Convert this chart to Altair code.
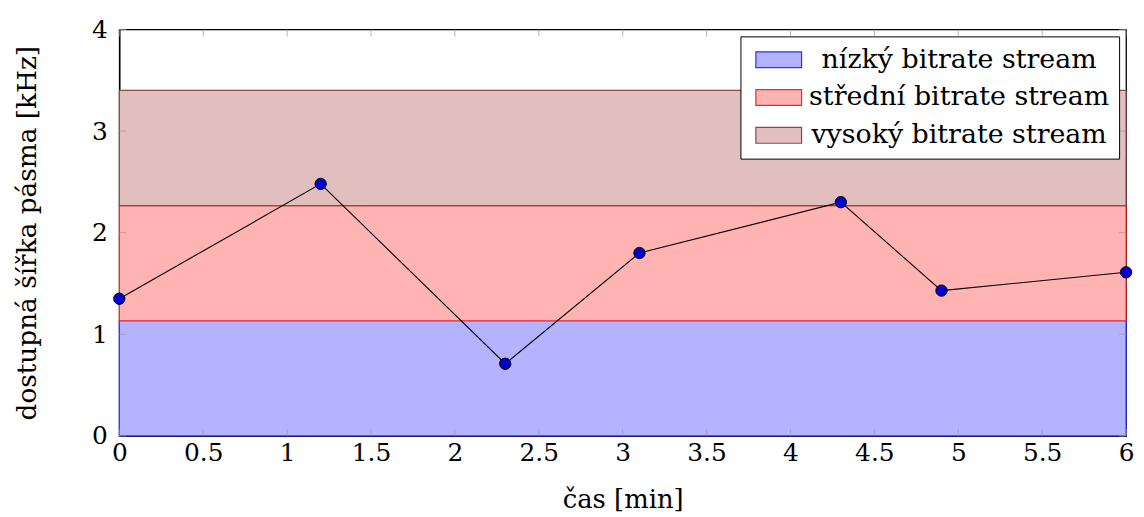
import altair as alt
import pandas as pd

# data
times = [0, 1.2, 2.3, 3.1, 4.3, 4.9, 6]
bandwidth = [1.35, 2.48, 0.71, 1.80, 2.30, 1.43, 1.61]

stream_names = ["nízký bitrate stream", "střední bitrate stream", "vysoký bitrate stream"]
band_low = [0.0, 1.133, 2.267]
band_high = [1.133, 2.267, 3.4]
band_fill = ["#b3b3ff", "#ffb3b3", "#e1bfbf"]
band_stroke = ["#3030ff", "#f02a2a", "#8c4848"]

x_ticks = [0, 0.5, 1, 1.5, 2, 2.5, 3, 3.5, 4, 4.5, 5, 5.5, 6]
y_ticks = [0, 1, 2, 3, 4]

W, H = 1013, 409
FONT = "DejaVu Serif"

line_df = pd.DataFrame({"t": times, "bw": bandwidth})
band_df = pd.DataFrame({"stream": stream_names, "lo": band_low, "hi": band_high})
xt_df = pd.DataFrame({"v": x_ticks})
yt_df = pd.DataFrame({"v": y_ticks})

xscale = alt.Scale(domain=[0, 6], nice=False, zero=False)
yscale = alt.Scale(domain=[0, 4], nice=False)

xaxis = alt.Axis(values=x_ticks, title="čas [min]", format="~g")
yaxis = alt.Axis(values=y_ticks, title="dostupná šířka pásma [kHz]", format="~g")

bands = alt.Chart(band_df).mark_rect(strokeWidth=1.2).encode(
    x=alt.value(0), x2=alt.value(W),
    y=alt.Y("lo:Q", scale=yscale, axis=yaxis),
    y2="hi:Q",
    fill=alt.Fill("stream:N", scale=alt.Scale(domain=stream_names, range=band_fill),
                  title=None),
    stroke=alt.Stroke("stream:N", scale=alt.Scale(domain=stream_names, range=band_stroke),
                      title=None),
)

line = alt.Chart(line_df).mark_line(color="black", strokeWidth=1.1).encode(
    x=alt.X("t:Q", scale=xscale, axis=xaxis),
    y=alt.Y("bw:Q", scale=yscale, axis=yaxis),
)

points = alt.Chart(line_df).mark_point(filled=True, fill="#0000cc", stroke="black",
                                        strokeWidth=1, size=130, opacity=1).encode(
    x=alt.X("t:Q", scale=xscale, axis=xaxis),
    y=alt.Y("bw:Q", scale=yscale, axis=yaxis),
)

def xt(ypix):
    return alt.Chart(xt_df).mark_tick(color="#999999", thickness=1, size=7, orient="vertical").encode(
        x=alt.X("v:Q", scale=xscale, axis=xaxis), y=alt.value(ypix))

def yt(xpix):
    return alt.Chart(yt_df).mark_tick(color="#999999", thickness=1, size=7, orient="horizontal").encode(
        y=alt.Y("v:Q", scale=yscale, axis=yaxis), x=alt.value(xpix))

chart = alt.layer(bands, xt(H - 3.5), xt(3.5), yt(3.5), yt(W - 3.5), line, points).properties(
    width=W, height=H,
    autosize=alt.AutoSizeParams(type="none"),
    padding={"left": 112, "top": 20, "right": 10, "bottom": 76},
).configure_view(
    stroke="black", strokeWidth=1.3,
).configure_axis(
    labelFont=FONT, titleFont=FONT, labelColor="black", titleColor="black",
    titleFontWeight="normal", grid=False, tickSize=0, labelFlush=False,
    labelFontSize=25, domainColor="black", domainWidth=1.3, zindex=2,
).configure_axisX(
    labelPadding=5, titlePadding=21, titleFontSize=26,
).configure_axisY(
    labelPadding=12, titlePadding=50, titleFontSize=26.5,
).configure_legend(
    orient="none", legendX=625, legendY=7,
    labelFont=FONT, labelFontSize=27, labelColor="black", labelLimit=400,
    symbolType="M-1,-1L4.75,-1L4.75,1L-1,1Z", symbolSize=256,
    symbolStrokeWidth=1.2, symbolOpacity=1,
    strokeColor="black", fillColor="white", padding=10, rowPadding=10,
    labelOffset=183, labelAlign="center", cornerRadius=0,
)

chart.save("out.html", embed_options={"renderer": "svg", "actions": False})
